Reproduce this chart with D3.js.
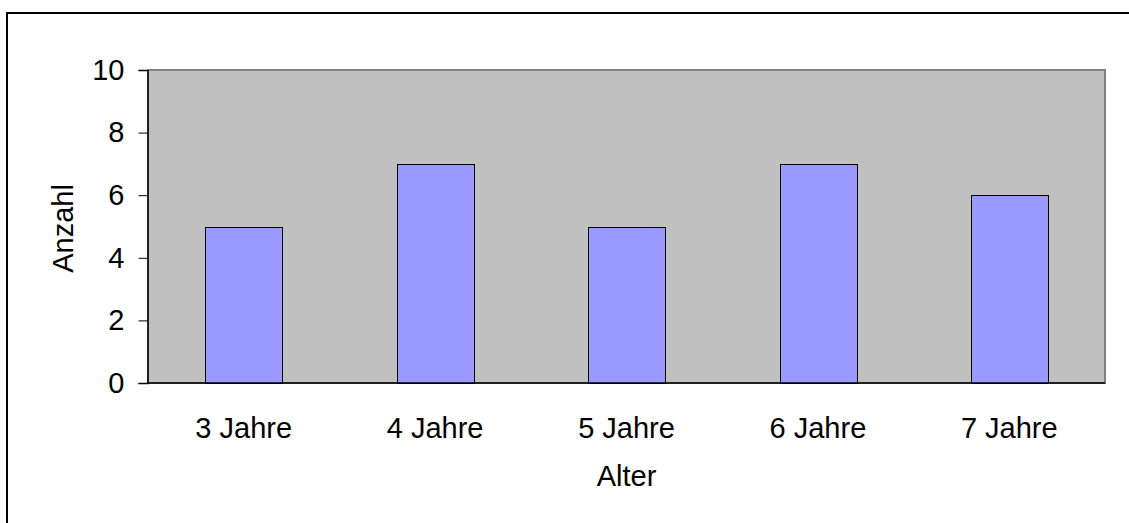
<!DOCTYPE html>
<html>
<head>
<meta charset="utf-8"/>
<title>Alter</title>
<script src="https://d3js.org/d3.v7.min.js"></script>
<style>
  body { margin: 0; background: #fff; }
  svg { display: block; font-family: "Liberation Sans", Arial, sans-serif; }
</style>
</head>
<body>
<svg width="1129" height="523"></svg>
<script>
  var categories = ["3 Jahre", "4 Jahre", "5 Jahre", "6 Jahre", "7 Jahre"];
  var counts = [5, 7, 5, 7, 6];
  var yTicks = [0, 2, 4, 6, 8, 10];

  var fontSize = 29;
  var svg = d3.select("svg");

  // outer frame (only top and left edges visible in the picture)
  svg.append("path")
    .attr("d", "M7,523 V13 H1129")
    .attr("fill", "none")
    .attr("stroke", "#000")
    .attr("stroke-width", 2);

  var plot = {left: 148, top: 70, right: 1105, bottom: 383};

  var x = d3.scaleBand()
    .domain(categories)
    .range([plot.left, plot.right])
    .paddingInner(0.6)
    .paddingOuter(0.3);

  var y = d3.scaleLinear().domain([0, 10]).range([plot.bottom, plot.top]);

  // plot background
  svg.append("rect")
    .attr("x", plot.left)
    .attr("y", plot.top)
    .attr("width", plot.right - plot.left)
    .attr("height", plot.bottom - plot.top)
    .attr("fill", "#c0c0c0")
    .attr("stroke", "#808080")
    .attr("stroke-width", 2);

  svg.selectAll(".bar")
    .data(counts)
    .enter().append("rect")
    .attr("class", "bar")
    .attr("x", function(d, i) { return Math.round(x(categories[i])) + 0.5; })
    .attr("y", function(d) { return Math.round(y(d)) + 0.5; })
    .attr("width", Math.round(x.bandwidth()))
    .attr("height", function(d) { return Math.round(y(0)) - Math.round(y(d)); })
    .attr("fill", "#9999ff")
    .attr("stroke", "#000")
    .attr("stroke-width", 1);

  // y axis
  var yAxis = svg.append("g")
    .attr("transform", "translate(" + (plot.left - 0.5) + ",0)")
    .call(d3.axisLeft(y).tickValues(yTicks).tickSize(9).tickPadding(14).tickFormat(d3.format("d")));
  yAxis.select(".domain").attr("stroke", "#000").attr("stroke-width", 1.5);
  yAxis.selectAll("text").attr("font-size", fontSize).attr("fill", "#000")
    .attr("font-family", "Liberation Sans, Arial, sans-serif");

  // x axis line
  svg.append("line")
    .attr("x1", plot.left - 1)
    .attr("x2", plot.right)
    .attr("y1", plot.bottom)
    .attr("y2", plot.bottom)
    .attr("stroke", "#000")
    .attr("stroke-width", 1.5);

  svg.selectAll(".xlab")
    .data(categories)
    .enter().append("text")
    .attr("class", "xlab")
    .attr("x", function(d) { return x(d) + x.bandwidth() / 2; })
    .attr("y", 438)
    .attr("text-anchor", "middle")
    .attr("font-size", fontSize)
    .text(function(d) { return d; });

  svg.append("text")
    .attr("x", (plot.left + plot.right) / 2)
    .attr("y", 486)
    .attr("text-anchor", "middle")
    .attr("font-size", fontSize)
    .text("Alter");

  svg.append("text")
    .attr("transform", "translate(73," + ((plot.top + plot.bottom) / 2 + 2) + ") rotate(-90)")
    .attr("text-anchor", "middle")
    .attr("font-size", fontSize)
    .text("Anzahl");
</script>
</body>
</html>
